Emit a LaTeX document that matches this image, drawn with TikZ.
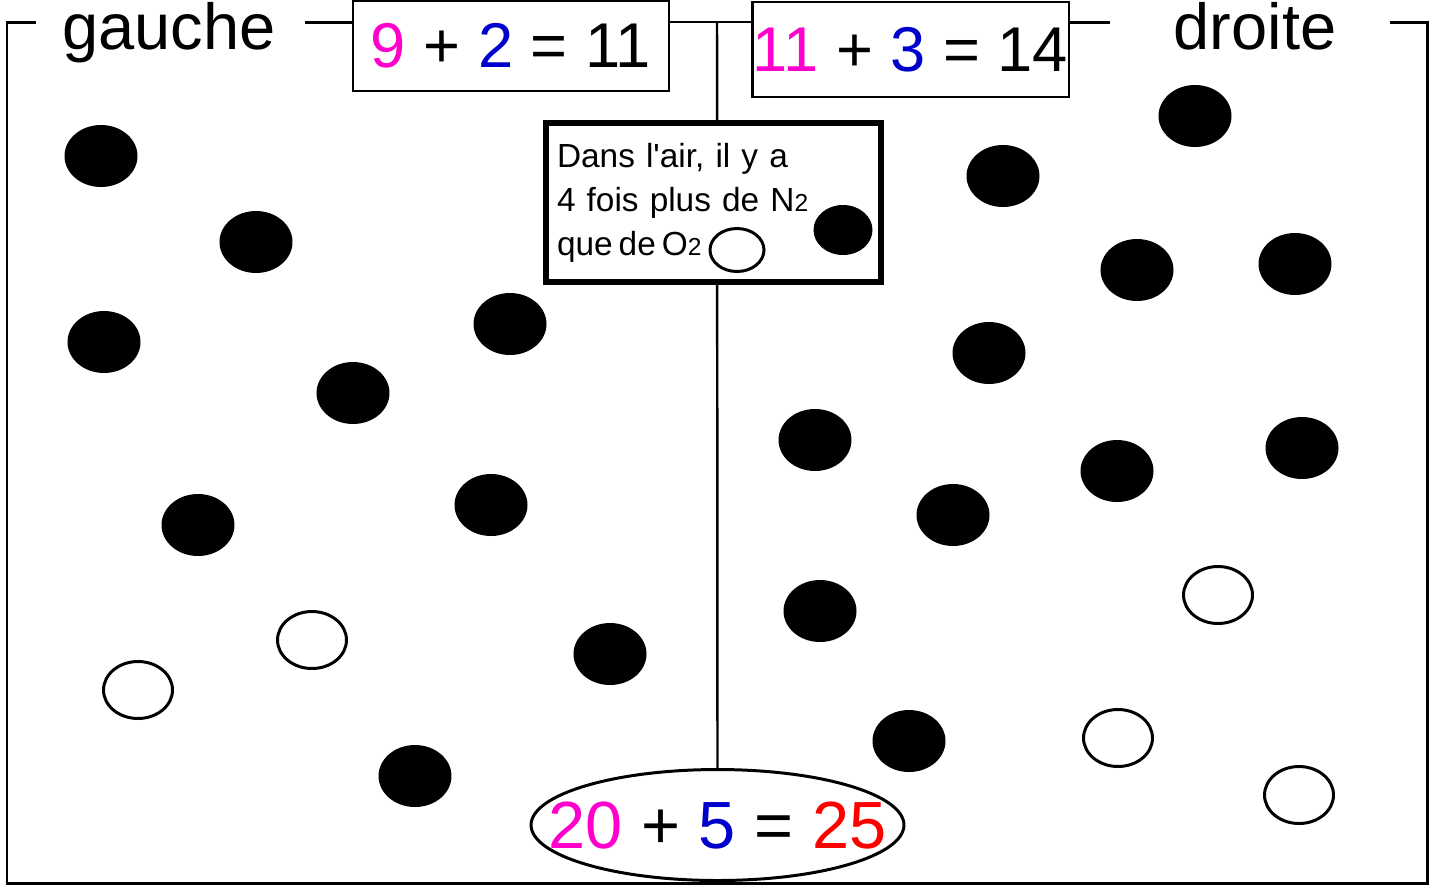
\documentclass[tikz,border=0pt]{standalone}
\usepackage{fontspec}
\setmainfont{Liberation Sans}
\usetikzlibrary{shapes.geometric, positioning}
\definecolor{numMag}{HTML}{FF00CC}
\definecolor{numBlue}{HTML}{0000CC}
\definecolor{numRed}{HTML}{FF0000}

\begin{document}
\begin{tikzpicture}[
    x=0.02cm, y=-0.02cm,
    frame/.style={line width=1.7pt},
    eqbox/.style={draw, line width=1.4pt, fill=white, minimum width=6.33cm,
                  inner sep=0pt, font=\fontsize{36}{40}\selectfont},
    side/.style={font=\fontsize{37}{40}\selectfont, anchor=base},
    note/.style={draw, line width=3.4pt, fill=white, minimum width=6.7cm,
                 minimum height=3.18cm, inner sep=0.22cm, text width=6.26cm,
                 align=left, font=\fontsize{19}{25}\selectfont},
    sumbox/.style={ellipse, draw, line width=1.7pt, fill=white,
                   minimum width=7.46cm, minimum height=2.22cm, inner sep=0pt},
    sumtext/.style={inner sep=0pt, font=\fontsize{38}{40}\selectfont},
    molN/.style={fill=black},
    molO/.style={draw, line width=1.7pt, fill=white},
]
\useasboundingbox (0,0) rectangle (1429,887);

% ── Container ──
\draw[frame] (36,22) -- (7,22) -- (7,883) -- (1427,883) -- (1427,22) -- (1390,22);
\draw[frame] (305,22) -- (352,22);
\draw[frame] (1070,22) -- (1110,22);

% ── Totals ──
\node[sumbox] (sum) at (717.5,825) {};
\node[sumtext] (total) at (sum.center)
    {\textcolor{numMag}{20} + \textcolor{numBlue}{5} = \textcolor{numRed}{25}};
\coordinate (divtop) at (717,22);
\draw[line width=1.4pt] (divtop) -- (sum.north);

% ── Legend ──
\node[note] (note) at (713.5,202.5)
    {Dans l\textquotesingle air, il y a\\
     4 fois plus de N{\fontsize{14}{14}\selectfont 2}\\
     que\hspace{0.18em}de\hspace{0.18em}O{\fontsize{14}{14}\selectfont 2}};
\fill[molN] (843,230) ellipse [x radius=0.59cm, y radius=0.5cm];
\draw[molO] (737,250) ellipse [x radius=0.54cm, y radius=0.43cm];

% ── Side labels ──
\node[side] (left) at (169,49) {gauche};
\node[side] (right) at (1255,49) {droite};
\node[eqbox, minimum height=1.8cm] (eqleft) at (511,46)
    {\textcolor{numMag}{9} + \textcolor{numBlue}{2} = 11};
\node[eqbox, minimum height=1.9cm] (eqright) at (910.5,49.5)
    {\textcolor{numMag}{11} + \textcolor{numBlue}{3} = 14};
\draw[frame, line width=1.4pt] (eqleft.east |- divtop) -- (eqright.west |- divtop);

% ── Molecules ──
\foreach \px/\py in {101/156, 256/242, 104/342, 510/324, 353/393, 198/525,
                     491/505, 610/654, 415/776,
                     1195/116, 1003/176, 1137/270, 1295/264, 989/353, 815/440,
                     1117/471, 1302/448, 953/515, 820/611, 909/741}
    \fill[molN] (\px,\py) ellipse [x radius=0.73cm, y radius=0.62cm];
\foreach \px/\py in {312/640, 138/690, 1218/595, 1118/738, 1299/795}
    \draw[molO] (\px,\py) ellipse [x radius=0.69cm, y radius=0.57cm];
\end{tikzpicture}
\end{document}
